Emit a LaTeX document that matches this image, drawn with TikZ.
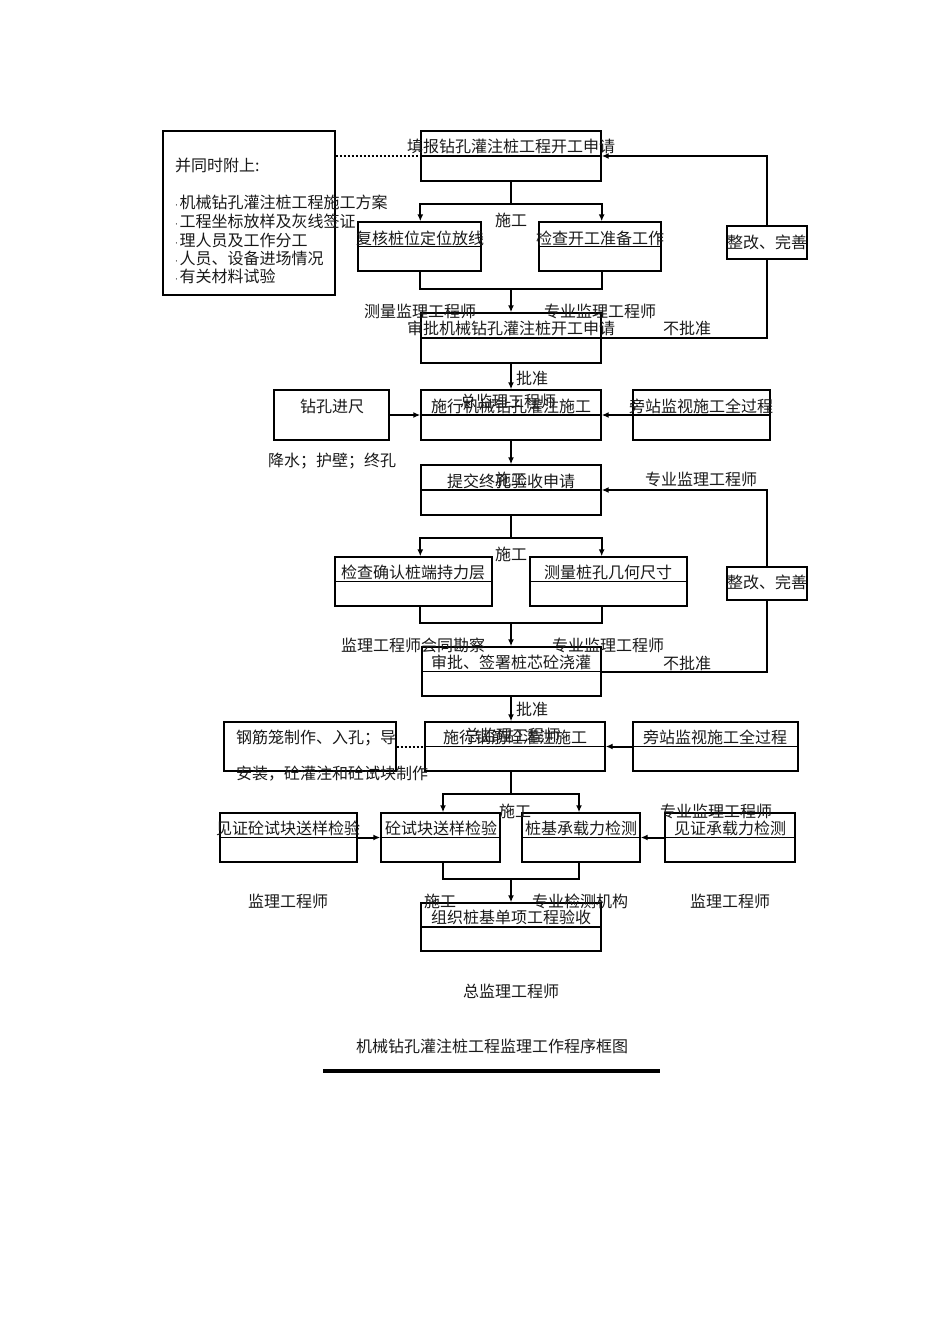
\documentclass[tikz,border=0pt]{standalone}
\usepackage{fontspec}
\setmainfont{Noto Sans CJK SC}
\newfontfamily\dotfont{DejaVu Sans}
\newcommand\smdot{{\dotfont\fontsize{9}{10}\selectfont ·}\hspace{1.5pt}}
\usetikzlibrary{arrows.meta,calc}
\begin{document}
\begin{tikzpicture}[x=1pt,y=-1pt,
  every node/.style={font=\fontsize{16}{18}\selectfont},
  boxst/.style={draw,line width=1.4pt,inner sep=0pt},
  txt/.style={inner sep=0pt,text=black!90},
  conn/.style={line width=2pt},
  arr/.style={conn,-{Latex[length=7pt,width=6pt]}},
  dotln/.style={line width=2pt,dotted}]
\useasboundingbox (0,0) rectangle (950,1344);
% ---------- boxes ----------
\node[boxst,minimum width=172pt,minimum height=164pt] (N) at (249,213) {};
\node[boxst,minimum width=180pt,minimum height=50pt] (A) at (511,156) {};
\node[boxst,minimum width=123pt,minimum height=49pt] (B) at (419.5,246.5) {};
\node[boxst,minimum width=122pt,minimum height=49pt] (C) at (600,246.5) {};
\node[boxst,minimum width=80pt,minimum height=33pt] (Z1) at (767,242.5) {};
\node[boxst,minimum width=180pt,minimum height=50pt] (D) at (511,338) {};
\node[boxst,minimum width=115pt,minimum height=50pt] (J1) at (331.5,415) {};
\node[boxst,minimum width=180pt,minimum height=50pt] (E) at (511,415) {};
\node[boxst,minimum width=137pt,minimum height=50pt] (P1) at (701.5,415) {};
\node[boxst,minimum width=180pt,minimum height=50pt] (F) at (511,490) {};
\node[boxst,minimum width=157pt,minimum height=49pt] (H) at (413.5,581.5) {};
\node[boxst,minimum width=157pt,minimum height=49pt] (I) at (608.5,581.5) {};
\node[boxst,minimum width=80pt,minimum height=33pt] (Z2) at (767,583.5) {};
\node[boxst,minimum width=179pt,minimum height=49pt] (J) at (511.5,671.5) {};
\node[boxst,minimum width=172pt,minimum height=49pt] (Q) at (310,746.5) {};
\node[boxst,minimum width=180pt,minimum height=49pt] (K) at (515,746.5) {};
\node[boxst,minimum width=165pt,minimum height=49pt] (P2) at (715.5,746.5) {};
\node[boxst,minimum width=137pt,minimum height=49pt] (M1) at (288.5,837.5) {};
\node[boxst,minimum width=119pt,minimum height=49pt] (M2) at (440.5,837.5) {};
\node[boxst,minimum width=118pt,minimum height=49pt] (M3) at (581,837.5) {};
\node[boxst,minimum width=130pt,minimum height=49pt] (M4) at (730,837.5) {};
\node[boxst,minimum width=180pt,minimum height=48pt] (L) at (511,927) {};
% dividers
\foreach \b in {A,B,C,D,E,P1,F,H,I,J,K,P2,M1,M2,M3,M4,L}
  \draw[line width=1.4pt] (\b.west) -- (\b.east);
% ---------- box texts ----------
\node[txt] (tA) at (511,146) {填报钻孔灌注桩工程开工申请};
\node[txt] (tB) at (420,238) {复核桩位定位放线};
\node[txt] (tC) at (600,238) {检查开工准备工作};
\node[txt] (tZ1) at (767,242) {整改、完善};
\node[txt] (tD) at (511,328) {审批机械钻孔灌注桩开工申请};
\node[txt] (tJ1) at (332,406) {钻孔进尺};
\node[txt] (tE) at (511,406) {施行机械钻孔灌注施工};
\node[txt] (tE2) at (508,401) {总监理工程师};
\node[txt] (tP1) at (701,406) {旁站监视施工全过程};
\node[txt] (tF) at (511,481) {提交终孔验收申请};
\node[txt] (tF2) at (511,479) {施工};
\node[txt] (tH) at (413,572) {检查确认桩端持力层};
\node[txt] (tI) at (608,572) {测量桩孔几何尺寸};
\node[txt] (tZ2) at (767,582) {整改、完善};
\node[txt] (tJ) at (511,662) {审批、签署桩芯砼浇灌};
\node[txt,anchor=west] (tQ) at (236,738) {钢筋笼制作、入孔；导};
\node[txt,anchor=west] (tQ2) at (236,774) {安装，砼灌注和砼试块制作};
\node[txt] (tK) at (515,737) {施行钢筋砼灌注施工};
\node[txt] (tK2) at (512,735) {总监理工程师};
\node[txt] (tP2) at (715,737) {旁站监视施工全过程};
\node[txt] (tM1) at (288,828) {见证砼试块送样检验};
\node[txt] (tM2) at (441,828) {砼试块送样检验};
\node[txt] (tM3) at (581,828) {桩基承载力检测};
\node[txt] (tM4) at (730,828) {见证承载力检测};
\node[txt] (tL) at (511,917) {组织桩基单项工程验收};
% left note box
\node[txt,anchor=west] (n0) at (175,165) {并同时附上:};
\node[txt,anchor=west] (n1) at (175,202) {\smdot 机械钻孔灌注桩工程施工方案};
\node[txt,anchor=west] (n2) at (175,221) {\smdot 工程坐标放样及灰线签证};
\node[txt,anchor=west] (n3) at (175,240) {\smdot 理人员及工作分工};
\node[txt,anchor=west] (n4) at (175,258) {\smdot 人员、设备进场情况};
\node[txt,anchor=west] (n5) at (175,276) {\smdot 有关材料试验};
% ---------- labels ----------
\node[txt] (l1) at (511,220) {施工};
\node[txt] (l2) at (420,311) {测量监理工程师};
\node[txt] (l3) at (600,311) {专业监理工程师};
\node[txt] (l4) at (687,328) {不批准};
\node[txt] (l5) at (532,378) {批准};
\node[txt] (l6) at (332,461) {降水；护壁；终孔};
\node[txt] (l7) at (701,479) {专业监理工程师};
\node[txt] (l8) at (511,554) {施工};
\node[txt] (l9) at (413,645) {监理工程师会同勘察};
\node[txt] (l10) at (608,645) {专业监理工程师};
\node[txt] (l11) at (687,663) {不批准};
\node[txt] (l12) at (532,709) {批准};
\node[txt] (l13) at (515,811) {施工};
\node[txt] (l14) at (716,811) {专业监理工程师};
\node[txt] (l15) at (288,901) {监理工程师};
\node[txt] (l16) at (440,901) {施工};
\node[txt] (l17) at (580,901) {专业检测机构};
\node[txt] (l18) at (730,901) {监理工程师};
\node[txt] (l19) at (511,991) {总监理工程师};
\node[txt] (cap) at (492,1046) {机械钻孔灌注桩工程监理工作程序框图};
% ---------- connectors ----------
\coordinate (s1) at (511,204);
\coordinate (j1) at (511,289);
\coordinate (s2) at (511,538);
\coordinate (j2) at (511,623);
\coordinate (s3) at (511,794);
\coordinate (j3) at (511,879);
\draw[dotln] (N.east |- A.west) -- (A.west);
\draw[conn] (A.south) -- (s1);
\draw[arr] (s1) -| (B.north -| A.west);
\draw[arr] (s1) -| (C.north -| A.east);
\draw[conn] (B.south -| A.west) |- (j1) -| (C.south -| A.east);
\draw[arr] (j1) -- (D.north);
\draw[conn] (D.east) -| (Z1.south);
\draw[arr] (Z1.north) |- (A.east);
\draw[arr] (D.south) -- (E.north);
\draw[arr] (J1.east) -- (E.west);
\draw[arr] (P1.west) -- (E.east);
\draw[arr] (E.south) -- (F.north);
\draw[conn] (F.south) -- (s2);
\draw[arr] (s2) -| (H.north -| F.west);
\draw[arr] (s2) -| (I.north -| F.east);
\draw[conn] (H.south -| F.west) |- (j2) -| (I.south -| F.east);
\draw[arr] (j2) -- (j2 |- J.north);
\draw[conn] (J.east) -| (Z2.south);
\draw[arr] (Z2.north) |- (F.east);
\draw[arr] (J.south -| s3) -- (K.north -| s3);
\draw[dotln] (Q.east) -- (K.west);
\draw[arr] (P2.west) -- (K.east);
\draw[conn] (K.south -| s3) -- (s3);
\draw[arr] (s3) -| ($(M2.north)+(2.5,0)$);
\draw[arr] (s3) -| ($(M3.north)+(-2,0)$);
\draw[arr] (M1.east) -- (M2.west);
\draw[arr] (M4.west) -- (M3.east);
\draw[conn] ($(M2.south)+(2.5,0)$) |- (j3) -| ($(M3.south)+(-2,0)$);
\draw[arr] (j3) -- (L.north);
\draw[line width=3.5pt] (323,1071) -- (660,1071);
\end{tikzpicture}
\end{document}
